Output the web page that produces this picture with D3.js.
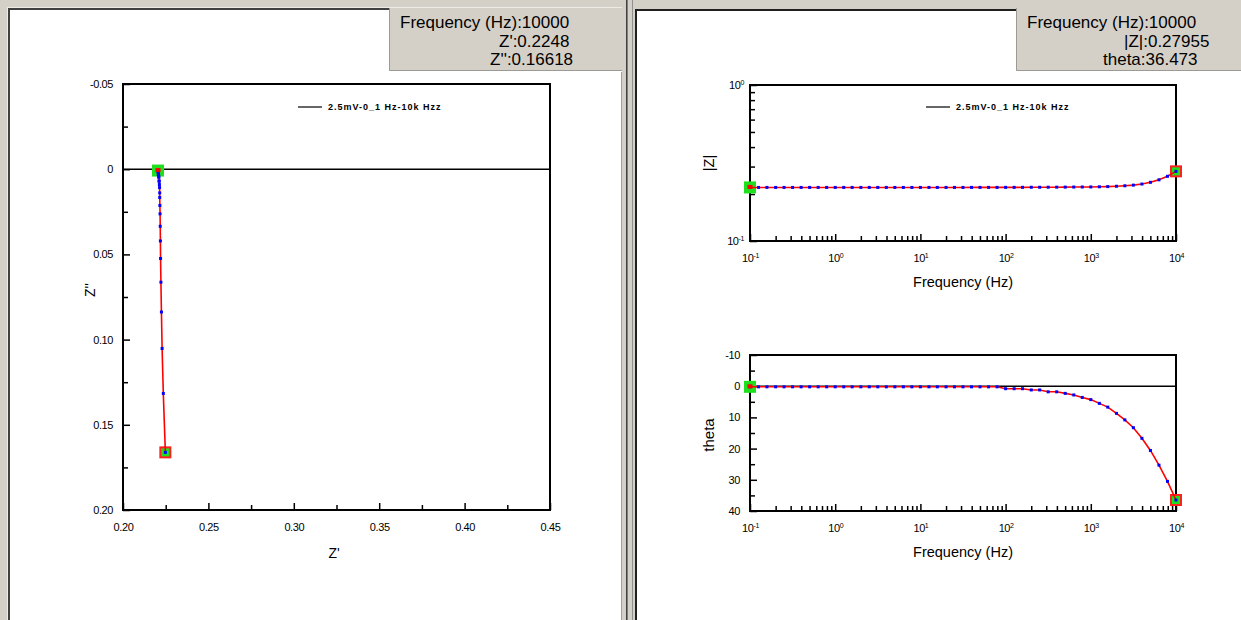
<!DOCTYPE html>
<html>
<head>
<meta charset="utf-8">
<script src="https://cdn.jsdelivr.net/npm/d3@7"></script>
<style>
  body { margin: 0; background: #d4d0c8; overflow: hidden; }
  svg { display: block; }
</style>
</head>
<body>
<svg id="chart"></svg>
<script>
// sweep 0.1 Hz - 10 kHz, 10 points per decade
const freq = [0.1, 0.126, 0.158, 0.2, 0.251, 0.316, 0.398, 0.501, 0.631, 0.794,
  1, 1.26, 1.58, 2, 2.51, 3.16, 3.98, 5.01, 6.31, 7.94,
  10, 12.6, 15.8, 20, 25.1, 31.6, 39.8, 50.1, 63.1, 79.4,
  100, 126, 158, 200, 251, 316, 398, 501, 631, 794,
  1000, 1260, 1580, 2000, 2510, 3160, 3980, 5010, 6310, 7940, 10000];

const zReal = [0.2205, 0.2205, 0.2205, 0.2205, 0.2205, 0.2205, 0.2205, 0.2205, 0.2205, 0.2205,
  0.2205, 0.2205, 0.2205, 0.2205, 0.2205, 0.2205, 0.2205, 0.2205, 0.2205, 0.2205,
  0.2205, 0.2205, 0.2205, 0.2205, 0.2205, 0.2205, 0.2206, 0.2206, 0.2206, 0.2206,
  0.2207, 0.2207, 0.2208, 0.2209, 0.2210, 0.2211, 0.2212, 0.2213, 0.2214, 0.2215,
  0.2215, 0.2216, 0.2217, 0.2218, 0.2219, 0.2220, 0.2222, 0.2225, 0.2229, 0.2236, 0.2248];

const zImag = [0.0008, 0.0008, 0.0008, 0.0008, 0.0008, 0.0008, 0.0008, 0.0008, 0.0008, 0.0008,
  0.0008, 0.0008, 0.0008, 0.0008, 0.0008, 0.0008, 0.0008, 0.0008, 0.0008, 0.0008,
  0.0008, 0.0008, 0.0008, 0.0008, 0.0008, 0.0008, 0.0008, 0.0008, 0.0008, 0.0008,
  0.0030, 0.0030, 0.0030, 0.0046, 0.0046, 0.0069, 0.0070, 0.0090, 0.0108, 0.0139,
  0.0166, 0.0213, 0.0262, 0.0335, 0.0421, 0.0524, 0.0663, 0.0838, 0.1052, 0.1316, 0.16618];

const zMod = [0.2205, 0.2205, 0.2205, 0.2205, 0.2205, 0.2205, 0.2205, 0.2205, 0.2205, 0.2205,
  0.2205, 0.2205, 0.2205, 0.2205, 0.2205, 0.2205, 0.2205, 0.2205, 0.2205, 0.2205,
  0.2205, 0.2205, 0.2205, 0.2205, 0.2205, 0.2205, 0.2206, 0.2206, 0.2206, 0.2206,
  0.2207, 0.2207, 0.2208, 0.2210, 0.2210, 0.2212, 0.2213, 0.2215, 0.2217, 0.2219,
  0.2221, 0.2226, 0.2232, 0.2243, 0.2259, 0.2281, 0.2318, 0.2378, 0.2467, 0.2598, 0.27955];

const theta = [0.2, 0.2, 0.2, 0.2, 0.2, 0.2, 0.2, 0.2, 0.2, 0.2,
  0.2, 0.2, 0.2, 0.2, 0.2, 0.2, 0.2, 0.2, 0.2, 0.2,
  0.2, 0.2, 0.2, 0.2, 0.2, 0.2, 0.2, 0.2, 0.2, 0.2,
  0.8, 0.8, 0.8, 1.2, 1.2, 1.8, 1.8, 2.3, 2.8, 3.6,
  4.3, 5.5, 6.7, 8.7, 10.8, 13.3, 16.7, 20.6, 25.3, 30.5, 36.473];

const seriesName = "2.5mV-0_1 Hz-10k Hzz";

// cursor readouts
const leftReadout = ["Frequency (Hz):10000", "Z':0.2248", "Z'':0.16618"];
const rightReadout = ["Frequency (Hz):10000", "|Z|:0.27955", "theta:36.473"];

// tick values
const nyqXTicks = [0.20, 0.25, 0.30, 0.35, 0.40, 0.45];
const nyqXMinor = [0.225, 0.275, 0.325, 0.375, 0.425];
const nyqYTicks = [-0.05, 0, 0.05, 0.10, 0.15, 0.20];
const nyqYMinor = [-0.025, 0.025, 0.075, 0.125, 0.175];
const thetaTicks = [-10, 0, 10, 20, 30, 40];
const thetaMinor = [-5, 5, 15, 25, 35];
const decades = [0.1, 1, 10, 100, 1000, 10000];
const zModDecades = [0.1, 1];

const data = freq.map((f, i) => ({ f: f, zr: zReal[i], zi: zImag[i], zm: zMod[i], th: theta[i] }));

const W = 1241, H = 620;
const font = "'Liberation Sans', Arial, sans-serif";
const svg = d3.select("#chart").attr("width", W).attr("height", H);
// plain hyphen for negatives, like the original software
const loc = d3.formatLocale({ decimal: ".", thousands: ",", grouping: [3], currency: ["", ""], minus: "-" });

// ---- window chrome ----
svg.append("rect").attr("width", W).attr("height", H).attr("fill", "#d4d0c8");
// left pane
svg.append("rect").attr("x", 7).attr("y", 7).attr("width", 615).attr("height", 613).attr("fill", "#ecebe6");
svg.append("rect").attr("x", 8).attr("y", 8).attr("width", 614).attr("height", 612).attr("fill", "#404040");
svg.append("rect").attr("x", 10).attr("y", 10).attr("width", 611).attr("height", 610).attr("fill", "#fff");
svg.append("rect").attr("x", 621).attr("y", 8).attr("width", 1).attr("height", 612).attr("fill", "#a0a0a0");
// splitter
svg.append("rect").attr("x", 626).attr("y", 0).attr("width", 1).attr("height", H).attr("fill", "#404040");
svg.append("rect").attr("x", 627).attr("y", 0).attr("width", 1).attr("height", H).attr("fill", "#808080");
svg.append("rect").attr("x", 632).attr("y", 0).attr("width", 1).attr("height", H).attr("fill", "#909090");
// right pane
svg.append("rect").attr("x", 635).attr("y", 9).attr("width", W - 635).attr("height", H - 9).attr("fill", "#202020");
svg.append("rect").attr("x", 637).attr("y", 11).attr("width", W - 637).attr("height", H - 11).attr("fill", "#fff");

function readoutBox(x, w, lines, starts) {
  const g = svg.append("g");
  g.append("rect").attr("x", x).attr("y", 8).attr("width", w).attr("height", 63).attr("fill", "#d4d0c8");
  g.append("path").attr("d", `M${x + 0.5},8V70.5H${x + w}`).attr("fill", "none").attr("stroke", "#9c9a94");
  g.append("path").attr("d", `M${x},71.5H${x + w}`).attr("stroke", "#ffffff");
  g.selectAll("text").data(lines).join("text")
    .attr("x", (d, i) => starts[i])
    .attr("y", (d, i) => 28 + i * 18.5)
    .attr("font-family", font).attr("font-size", 17).attr("fill", "#000")
    .text(d => d);
}
readoutBox(389, 233, leftReadout, [400, 499, 490]);
readoutBox(1016, 225, rightReadout, [1027, 1124, 1103]);

// ---- chart helpers ----
function styleAxis(g) {
  g.select(".domain").remove();
  g.selectAll(".tick line").attr("stroke", "#000").attr("stroke-width", 1.5);
  g.selectAll(".tick text").attr("font-family", font).attr("font-size", 11)
    .attr("letter-spacing", "-0.4px").attr("fill", "#000");
}

function powLabels(g) {
  g.selectAll(".tick text").each(function(d) {
    const t = d3.select(this).text("");
    t.append("tspan").text("10");
    t.append("tspan").attr("font-size", 7).attr("dy", "-0.55em").text(Math.round(Math.log10(d)));
  });
}

function frame(b) {
  svg.append("rect").attr("x", b.l).attr("y", b.t).attr("width", b.r - b.l).attr("height", b.b - b.t)
    .attr("fill", "none").attr("stroke", "#000").attr("stroke-width", 2);
}

function legend(x, y) {
  svg.append("line").attr("x1", x).attr("x2", x + 24).attr("y1", y).attr("y2", y)
    .attr("stroke", "#000").attr("stroke-width", 1.2);
  svg.append("text").attr("x", x + 30).attr("y", y + 3)
    .attr("font-family", font).attr("font-size", 9).attr("font-weight", "bold")
    .attr("letter-spacing", "1px")
    .text(seriesName);
}

function trace(xs, ys, xv, yv) {
  const pts = data.map(d => [xs(xv(d)), ys(yv(d))]);
  const first = pts[0], last = pts[pts.length - 1];
  // start / end cursors
  svg.append("rect").attr("x", first[0] - 6).attr("y", first[1] - 6).attr("width", 12).attr("height", 12)
    .attr("fill", "#1ee01e");
  svg.append("rect").attr("x", last[0] - 5).attr("y", last[1] - 5).attr("width", 10).attr("height", 10)
    .attr("fill", "#1ee01e").attr("stroke", "#ff2020").attr("stroke-width", 2);
  svg.append("path").datum(pts)
    .attr("d", d3.line())
    .attr("fill", "none").attr("stroke", "#ff0000").attr("stroke-width", 1.6);
  svg.append("g").selectAll("rect").data(pts).join("rect")
    .attr("x", d => d[0] - 1.5).attr("y", d => d[1] - 1.5)
    .attr("width", 3).attr("height", 3).attr("fill", "#0000ff");
  svg.append("rect").attr("x", first[0] - 2.5).attr("y", first[1] - 2.5).attr("width", 5).attr("height", 4)
    .attr("fill", "#ff0000");
}

function axisTitle(x, y, text, size, rotate) {
  svg.append("text")
    .attr("transform", `translate(${x},${y})` + (rotate ? " rotate(-90)" : ""))
    .attr("text-anchor", "middle")
    .attr("font-family", font).attr("font-size", size).attr("fill", "#000")
    .text(text);
}

// ---- Nyquist (left) ----
const nb = { l: 123, r: 550, t: 84, b: 510 };
const nx = d3.scaleLinear().domain([0.20, 0.45]).range([nb.l, nb.r]);
const ny = d3.scaleLinear().domain([-0.05, 0.20]).range([nb.t, nb.b]);
const f2 = loc.format(".2f");

svg.append("g").attr("transform", `translate(0,${nb.b})`)
  .call(d3.axisBottom(nx).tickValues(nyqXMinor).tickSizeInner(-5).tickSizeOuter(0).tickFormat(""))
  .call(styleAxis);
svg.append("g").attr("transform", `translate(0,${nb.b})`)
  .call(d3.axisBottom(nx).tickValues(nyqXTicks).tickSizeInner(-7).tickSizeOuter(0).tickPadding(13).tickFormat(f2))
  .call(styleAxis);
svg.append("g").attr("transform", `translate(${nb.l},0)`)
  .call(d3.axisLeft(ny).tickValues(nyqYMinor).tickSizeInner(-5).tickSizeOuter(0).tickFormat(""))
  .call(styleAxis);
svg.append("g").attr("transform", `translate(${nb.l},0)`)
  .call(d3.axisLeft(ny).tickValues(nyqYTicks).tickSizeInner(-7).tickSizeOuter(0).tickPadding(10)
    .tickFormat(d => d === 0 ? "0" : f2(d)))
  .call(styleAxis);
frame(nb);
svg.append("line").attr("x1", nb.l).attr("x2", nb.r).attr("y1", ny(0)).attr("y2", ny(0))
  .attr("stroke", "#000").attr("stroke-width", 1.6);
legend(298, 107);
trace(nx, ny, d => d.zr, d => d.zi);
axisTitle(334, 558, "Z'", 14, false);
axisTitle(95, 290, "Z''", 14, true);

// ---- Bode |Z| (right top) ----
const fx = d3.scaleLog().domain([0.1, 10000]);
const mb = { l: 750, r: 1176, t: 85, b: 241 };
const mx = fx.copy().range([mb.l, mb.r]);
const my = d3.scaleLog().domain([0.1, 1]).range([mb.b, mb.t]);
const minorX = mx.ticks().filter(v => !decades.some(p => Math.abs(v - p) < p * 1e-6));
const minorY = my.ticks().filter(v => !zModDecades.some(p => Math.abs(v - p) < p * 1e-6));

function logBottom(xs, b) {
  svg.append("g").attr("transform", `translate(0,${b.b})`)
    .call(d3.axisBottom(xs).tickValues(minorX).tickSizeInner(-5).tickSizeOuter(0).tickFormat(""))
    .call(styleAxis);
  svg.append("g").attr("transform", `translate(0,${b.b})`)
    .call(d3.axisBottom(xs).tickValues(decades).tickSizeInner(-7).tickSizeOuter(0).tickPadding(13))
    .call(styleAxis).call(powLabels);
}

logBottom(mx, mb);
svg.append("g").attr("transform", `translate(${mb.l},0)`)
  .call(d3.axisLeft(my).tickValues(minorY).tickSizeInner(-5).tickSizeOuter(0).tickFormat(""))
  .call(styleAxis);
svg.append("g").attr("transform", `translate(${mb.l},0)`)
  .call(d3.axisLeft(my).tickValues(zModDecades).tickSizeInner(-7).tickSizeOuter(0).tickPadding(6))
  .call(styleAxis).call(powLabels);
frame(mb);
legend(926, 107);
trace(mx, my, d => d.f, d => d.zm);
axisTitle(963, 287, "Frequency (Hz)", 14.5, false);
axisTitle(714, 163, "|Z|", 14.5, true);

// ---- Bode theta (right bottom) ----
const tb = { l: 750, r: 1176, t: 355, b: 511 };
const tx = fx.copy().range([tb.l, tb.r]);
const ty = d3.scaleLinear().domain([-10, 40]).range([tb.t, tb.b]);

logBottom(tx, tb);
svg.append("g").attr("transform", `translate(${tb.l},0)`)
  .call(d3.axisLeft(ty).tickValues(thetaMinor).tickSizeInner(-5).tickSizeOuter(0).tickFormat(""))
  .call(styleAxis);
svg.append("g").attr("transform", `translate(${tb.l},0)`)
  .call(d3.axisLeft(ty).tickValues(thetaTicks).tickSizeInner(-7).tickSizeOuter(0).tickPadding(10)
    .tickFormat(loc.format("d")))
  .call(styleAxis);
frame(tb);
svg.append("line").attr("x1", tb.l).attr("x2", tb.r).attr("y1", ty(0)).attr("y2", ty(0))
  .attr("stroke", "#000").attr("stroke-width", 1.6);
trace(tx, ty, d => d.f, d => d.th);
axisTitle(963, 557, "Frequency (Hz)", 14.5, false);
axisTitle(714, 435, "theta", 15, true);
</script>
</body>
</html>
